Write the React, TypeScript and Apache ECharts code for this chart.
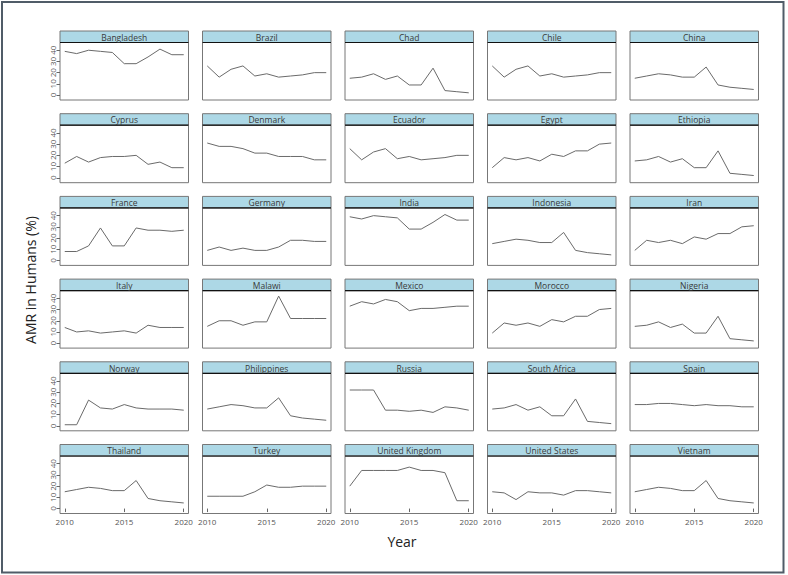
import { useEffect, useRef } from "react";
import * as echarts from "echarts";

const years = [2010, 2011, 2012, 2013, 2014, 2015, 2016, 2017, 2018, 2019, 2020];
const xTicks = [2010, 2015, 2020];
const yTicks = [0, 10, 20, 30, 40];

const countries = [
  "Bangladesh", "Brazil", "Chad", "Chile", "China",
  "Cyprus", "Denmark", "Ecuador", "Egypt", "Ethiopia",
  "France", "Germany", "India", "Indonesia", "Iran",
  "Italy", "Malawi", "Mexico", "Morocco", "Nigeria",
  "Norway", "Philippines", "Russia", "South Africa", "Spain",
  "Thailand", "Turkey", "United Kingdom", "United States", "Vietnam",
];

const bangladesh = [39, 37, 40, 39, 38, 28, 28, 34, 41, 36, 36];
const brazil = [26, 16, 23, 26, 17, 19, 16, 17, 18, 20, 20];
const chad = [15, 16, 19, 14, 17, 9, 9, 24, 4, 3, 2];
const chile = [26, 16, 23, 26, 17, 19, 16, 17, 18, 20, 20];
const china = [15, 17, 19, 18, 16, 16, 25, 9, 7, 6, 5];
const cyprus = [13, 19, 14, 18, 19, 19, 20, 12, 14, 9, 9];
const denmark = [31, 28, 28, 26, 22, 22, 19, 19, 19, 16, 16];
const ecuador = [26, 16, 23, 26, 17, 19, 16, 17, 18, 20, 20];
const egypt = [9, 18, 16, 18, 15, 21, 19, 24, 24, 30, 31];
const ethiopia = [15, 16, 19, 14, 17, 9, 9, 24, 4, 3, 2];
const france = [8, 8, 13, 29, 13, 13, 29, 27, 27, 26, 27];
const germany = [9, 12, 9, 11, 9, 9, 12, 18, 18, 17, 17];
const india = [39, 37, 40, 39, 38, 28, 28, 34, 41, 36, 36];
const indonesia = [15, 17, 19, 18, 16, 16, 25, 9, 7, 6, 5];
const iran = [9, 18, 16, 18, 15, 21, 19, 24, 24, 30, 31];
const italy = [14, 10, 11, 9, 10, 11, 9, 16, 14, 14, 14];
const malawi = [15, 20, 20, 16, 19, 19, 42, 22, 22, 22, 22];
const mexico = [33, 37, 35, 39, 37, 29, 31, 31, 32, 33, 33];
const morocco = [9, 18, 16, 18, 15, 21, 19, 24, 24, 30, 31];
const nigeria = [15, 16, 19, 14, 17, 9, 9, 24, 4, 3, 2];
const norway = [1, 1, 23, 16, 15, 19, 16, 15, 15, 15, 14];
const philippines = [15, 17, 19, 18, 16, 16, 25, 9, 7, 6, 5];
const russia = [32, 32, 32, 14, 14, 13, 14, 12, 17, 16, 14];
const southAfrica = [15, 16, 19, 14, 17, 9, 9, 24, 4, 3, 2];
const spain = [19, 19, 20, 20, 19, 18, 19, 18, 18, 17, 17];
const thailand = [15, 17, 19, 18, 16, 16, 25, 9, 7, 6, 5];
const turkey = [11, 11, 11, 11, 15, 21, 19, 19, 20, 20, 20];
const unitedKingdom = [20, 34, 34, 34, 34, 37, 34, 34, 32, 7, 7];
const unitedStates = [15, 14, 8, 15, 14, 14, 12, 16, 16, 15, 14];
const vietnam = [15, 17, 19, 18, 16, 16, 25, 9, 7, 6, 5];

const seriesValues = [
  bangladesh, brazil, chad, chile, china,
  cyprus, denmark, ecuador, egypt, ethiopia,
  france, germany, india, indonesia, iran,
  italy, malawi, mexico, morocco, nigeria,
  norway, philippines, russia, southAfrica, spain,
  thailand, turkey, unitedKingdom, unitedStates, vietnam,
];

const COLS = 5;
const ROWS = 6;
const LEFT0 = 60;
const COL_STEP = 142.5;
const PANEL_W = 128.5;
const TOP0 = 31;
const ROW_STEP = 82.7;
const STRIP_H = 11.5;
const PLOT_H = 57.5;
const FONT = "'Open Sans', 'Noto Sans', sans-serif";

export default function App() {
  const ref = useRef<HTMLDivElement>(null);
  useEffect(() => {
    document.body.style.margin = "0";
    const chart = echarts.init(ref.current!, null, { renderer: "svg" });
    const grids: any[] = [];
    const xAxes: any[] = [];
    const yAxes: any[] = [];
    const series: any[] = [];
    const graphics: any[] = [];

    countries.forEach((name, i) => {
      const r = Math.floor(i / COLS);
      const c = i % COLS;
      const left = LEFT0 + c * COL_STEP;
      const stripTop = TOP0 + r * ROW_STEP;
      const top = stripTop + STRIP_H;
      const isBottom = r === ROWS - 1;
      const isLeft = c === 0;
      grids.push({
        left, top, width: PANEL_W, height: PLOT_H,
        show: true, borderColor: "#777", borderWidth: 1, backgroundColor: "#fff",
      });
      xAxes.push({
        type: "value", gridIndex: i, min: 2009.6, max: 2020.4,
        splitLine: { show: false },
        axisLine: { show: false },
        axisTick: { show: isBottom, customValues: xTicks, length: 3.5, lineStyle: { color: "#666" } },
        axisLabel: {
          show: isBottom, customValues: xTicks, fontSize: 8, color: "#555", margin: 4,
          fontFamily: FONT, formatter: (v: number) => String(v),
        },
      });
      yAxes.push({
        type: "value", gridIndex: i, min: -4.4, max: 46.9,
        splitLine: { show: false },
        axisLine: { show: false },
        axisTick: { show: isLeft, customValues: yTicks, length: 3.5, lineStyle: { color: "#666" } },
        axisLabel: {
          show: isLeft, customValues: yTicks, fontSize: 8, color: "#555", margin: 4,
          rotate: 90, fontFamily: FONT,
        },
      });
      series.push({
        type: "line", xAxisIndex: i, yAxisIndex: i,
        data: years.map((y, k) => [y, seriesValues[i][k]]),
        showSymbol: false, silent: true,
        lineStyle: { color: "#6a6a6a", width: 1 },
      });
      graphics.push({
        type: "rect", z: 10,
        shape: { x: left, y: stripTop, width: PANEL_W, height: STRIP_H },
        style: { fill: "#ADD8E6", stroke: "#777", lineWidth: 1 },
      });
      graphics.push({
        type: "line", z: 11,
        shape: { x1: left, y1: top, x2: left + PANEL_W, y2: top },
        style: { stroke: "#111", lineWidth: 1.2 },
      });
      graphics.push({
        type: "text", z: 12,
        x: left + PANEL_W / 2, y: stripTop + STRIP_H / 2 + 0.5,
        style: {
          text: name, fill: "#3a3a3a", fontSize: 8.5, fontWeight: "normal", fontFamily: FONT,
          textAlign: "center", textVerticalAlign: "middle", align: "center", verticalAlign: "middle",
        },
      });
    });

    graphics.push({
      type: "rect", z: 20,
      shape: { x: 2, y: 2, width: 781.5, height: 570.5 },
      style: { fill: "none", stroke: "#505c68", lineWidth: 2 },
    });
    graphics.push({
      type: "text", z: 20, x: 30, y: 280, rotation: Math.PI / 2,
      style: {
        text: "AMR in Humans (%)", fill: "#222", fontSize: 14, fontFamily: FONT,
        textAlign: "center", textVerticalAlign: "middle", align: "center", verticalAlign: "middle",
      },
    });
    graphics.push({
      type: "text", z: 20, x: 402, y: 541,
      style: {
        text: "Year", fill: "#222", fontSize: 14, fontFamily: FONT,
        textAlign: "center", textVerticalAlign: "middle", align: "center", verticalAlign: "middle",
      },
    });

    chart.setOption({
      animation: false,
      backgroundColor: "#fff",
      grid: grids,
      xAxis: xAxes,
      yAxis: yAxes,
      series,
      graphic: graphics,
    });
    return () => chart.dispose();
  }, []);
  return <div ref={ref} style={{ width: 788, height: 575 }} />;
}
